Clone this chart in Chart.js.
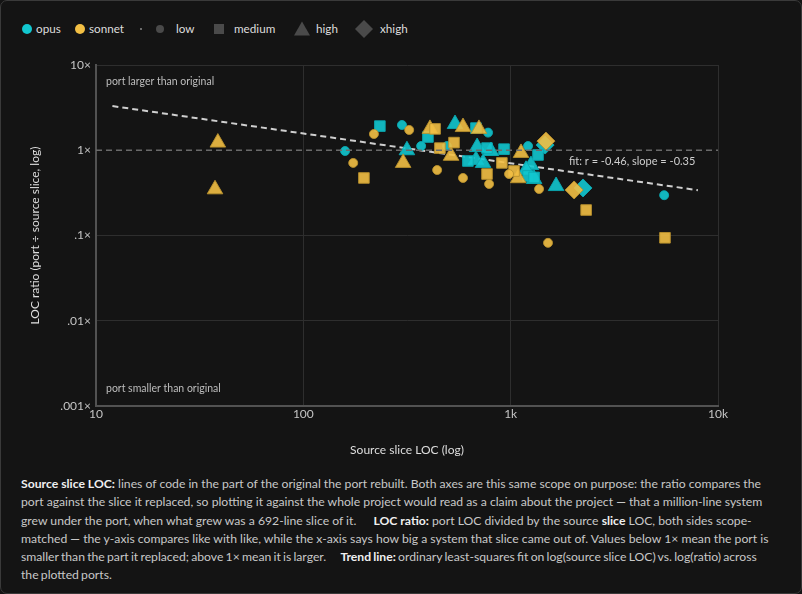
<!DOCTYPE html>
<html><head><meta charset="utf-8">
<script src="https://cdn.jsdelivr.net/npm/chart.js@4.4.1/dist/chart.umd.min.js"></script>
<style>
html,body{margin:0;padding:0;background:#141414;}
#panel{position:absolute;left:0;top:0;width:800px;height:592px;border:1px solid #3a3a3a;border-radius:7px;background:#141414;overflow:hidden;}
#legend{position:absolute;left:0;top:0;}
#wrap{position:absolute;left:0;top:0;width:802px;height:460px;}
#cap{position:absolute;left:20px;top:474px;width:754px;font-family:Lato,"Noto Sans",sans-serif;font-size:12.2px;line-height:18.3px;color:#c8c8c8;}
#cap b{color:#f0f0f0;font-weight:700;}
#cap .gap{display:inline-block;width:14px;}
#cap .tight{word-spacing:-0.9px;}
#cap .tight .gap{width:12px;}
</style></head>
<body>
<div id="panel">
<svg id="legend" width="802" height="50" font-family="Lato, 'Noto Sans', sans-serif" font-size="11.7" fill="#dddddd">
  <circle cx="26" cy="28" r="5" fill="#12c7cf"/><text x="35" y="32">opus</text>
  <circle cx="79" cy="28" r="5" fill="#f2bf44"/><text x="88" y="32">sonnet</text>
  <circle cx="140" cy="28" r="1" fill="#888"/>
  <circle cx="159" cy="28" r="4" fill="#4a4a4a"/><text x="175" y="32">low</text>
  <rect x="213" y="23" width="10" height="10" fill="#4a4a4a"/><text x="233" y="32">medium</text>
  <polygon points="301,20.5 309,34.5 293,34.5" fill="#4a4a4a"/><text x="315" y="32">high</text>
  <polygon points="363,19 372,28 363,37 354,28" fill="#4a4a4a"/><text x="379" y="32">xhigh</text>
</svg>
<div id="wrap"><canvas id="c" width="802" height="460"></canvas></div>
<div id="cap"><b>Source slice LOC:</b> lines of code in the part of the original the port rebuilt. Both axes are this same scope on purpose: the ratio compares the port against the slice it replaced, so plotting it against the whole project would read as a claim about the project — that a million-line system grew under the port, when what grew was a 692-line slice of it.<span class="gap"></span> <b>LOC ratio:</b> port LOC divided by the source <b>slice</b> LOC, both sides scope-matched — the y-axis compares like with like, while the x-axis says how big a system that slice came out of. Values below 1× mean the port is <span class="tight">smaller than the part it replaced; above 1× mean it is larger.<span class="gap"></span> <b>Trend line:</b> ordinary least-squares fit on log(source slice LOC) vs. log(ratio) across the plotted ports.</span></div>
</div>
<script>
// ---- data (source slice LOC, LOC ratio) ----
const opusLowX = [299, 159, 370, 493, 778, 1213, 5500];
const opusLowY = [1.98, 0.98, 1.12, 1.12, 1.61, 1.12, 0.297];
const opusMedX = [234, 399, 680, 769, 929, 622, 1355, 1213, 1297];
const opusMedY = [1.92, 1.43, 1.82, 1.06, 1.03, 0.748, 0.88, 0.499, 0.48];
const opusHighX = [539, 316, 689, 803, 680, 736, 1253, 1186, 1297, 1656];
const opusHighY = [2.03, 1.0, 1.09, 0.98, 0.77, 0.71, 0.67, 0.59, 0.46, 0.38];
const opusXhighX = [1466, 2234];
const opusXhighY = [1.15, 0.361];
const sonnetLowX = [324, 219, 174, 442, 589, 787, 982, 1371, 1514];
const sonnetLowY = [1.73, 1.55, 0.71, 0.586, 0.473, 0.402, 0.526, 0.351, 0.082];
const sonnetMedX = [432, 533, 456, 196, 907, 769, 1038, 2312, 5550];
const sonnetMedY = [1.78, 1.23, 1.06, 0.473, 0.71, 0.526, 0.571, 0.199, 0.094];
const sonnetHighX = [38.7, 37.5, 408, 589, 703, 303, 516, 1122, 1087];
const sonnetHighY = [1.23, 0.348, 1.78, 1.87, 1.78, 0.71, 0.86, 0.93, 0.47];
const sonnetXhighX = [1480, 2023];
const sonnetXhighY = [1.28, 0.342];
const trendX = [12, 8000];
const trendY = [3.3, 0.34];
const refX = [10, 10000];
const refY = [1, 1];
const xTickValues = [10, 100, 1000, 10000];
const xTickLabels = ['10', '100', '1k', '10k'];
const yTickValues = [0.001, 0.01, 0.1, 1, 10];
const yTickLabels = ['.001×', '.01×', '.1×', '1×', '10×'];
const fitLabel = 'fit: r = -0.46, slope = -0.35';

const pts = (xs, ys) => xs.map((x, i) => ({x, y: ys[i]}));
const CY = 'rgba(18,199,207,0.9)', CYB = 'rgba(10,170,178,0.9)';
const YE = 'rgba(242,191,68,0.9)', YEB = 'rgba(185,145,45,0.9)';
const FONT = 'Lato, "Noto Sans", sans-serif';

function sc(data, style, r, fill, border) {
  return {type: 'scatter', data, pointStyle: style, pointRadius: r, pointHoverRadius: r,
    backgroundColor: fill, borderColor: border, borderWidth: 1};
}

const labelsPlugin = {
  id: 'labels',
  afterDatasetsDraw(chart) {
    const {ctx, chartArea: a, scales} = chart;
    ctx.save();
    ctx.fillStyle = '#bdbdbd';
    ctx.font = '10.5px ' + FONT;
    ctx.textBaseline = 'middle';
    ctx.textAlign = 'left';
    ctx.fillText('port larger than original', a.left + 10, a.top + 17);
    ctx.fillText('port smaller than original', a.left + 10, a.bottom - 17);
    ctx.font = '11px ' + FONT;
    ctx.fillStyle = '#cfcfcf';
    ctx.fillText(fitLabel, a.right - 149, scales.y.getPixelForValue(1) + 11);
    ctx.restore();
  }
};

new Chart(document.getElementById('c'), {
  type: 'scatter',
  data: {datasets: [
    {type: 'line', data: pts(refX, refY), borderColor: '#6a6a6a', borderWidth: 1.5, borderDash: [6, 4], pointRadius: 0, fill: false},
    sc(pts(sonnetLowX, sonnetLowY), 'circle', 4.5, YE, YEB),
    sc(pts(sonnetMedX, sonnetMedY), 'rect', 7.5, YE, YEB),
    sc(pts(sonnetHighX, sonnetHighY), 'triangle', 9, YE, YEB),
    sc(pts(sonnetXhighX, sonnetXhighY), 'rectRot', 9, YE, YEB),
    sc(pts(opusLowX, opusLowY), 'circle', 4.5, CY, CYB),
    sc(pts(opusMedX, opusMedY), 'rect', 7.5, CY, CYB),
    sc(pts(opusHighX, opusHighY), 'triangle', 9, CY, CYB),
    sc(pts(opusXhighX, opusXhighY), 'rectRot', 9, CY, CYB),
    {type: 'line', data: pts(trendX, trendY), borderColor: '#cfcfcf', borderWidth: 2, borderDash: [6, 4], pointRadius: 0, fill: false}
  ]},
  options: {
    responsive: false, animation: false, devicePixelRatio: 1,
    layout: {padding: {left: 20, right: 85, top: 64, bottom: 0}},
    plugins: {legend: {display: false}, tooltip: {enabled: false}},
    scales: {
      x: {
        type: 'logarithmic', min: 10, max: 10000,
        afterFit: s => { s.height = 55; },
        afterBuildTicks: s => { s.ticks = xTickValues.map(v => ({value: v})); },
        ticks: {color: '#c4c4c4', font: {family: FONT, size: 12}, padding: 1, autoSkip: false, maxRotation: 0,
          callback: v => xTickLabels[xTickValues.indexOf(v)]},
        grid: {color: '#2e2e2e', lineWidth: 1, drawTicks: false},
        border: {color: '#525252', width: 2},
        title: {display: true, text: 'Source slice LOC (log)', color: '#dedede', font: {family: FONT, size: 12}, padding: {top: 4, bottom: 4}}
      },
      y: {
        type: 'logarithmic', min: 0.001, max: 10,
        afterFit: s => { s.width = 75; },
        afterBuildTicks: s => { s.ticks = yTickValues.map(v => ({value: v})); },
        ticks: {color: '#c4c4c4', font: {family: FONT, size: 12}, padding: 5, autoSkip: false,
          callback: v => yTickLabels[yTickValues.indexOf(v)]},
        grid: {color: c => (c.tick && c.tick.value === 1) ? 'rgba(0,0,0,0)' : '#2e2e2e', lineWidth: 1, drawTicks: false},
        border: {color: '#525252', width: 2},
        title: {display: true, text: 'LOC ratio (port ÷ source slice, log)', color: '#dedede', font: {family: FONT, size: 12}, padding: {top: 7, bottom: 4}}
      }
    }
  },
  plugins: [labelsPlugin]
});
</script>
</body></html>
